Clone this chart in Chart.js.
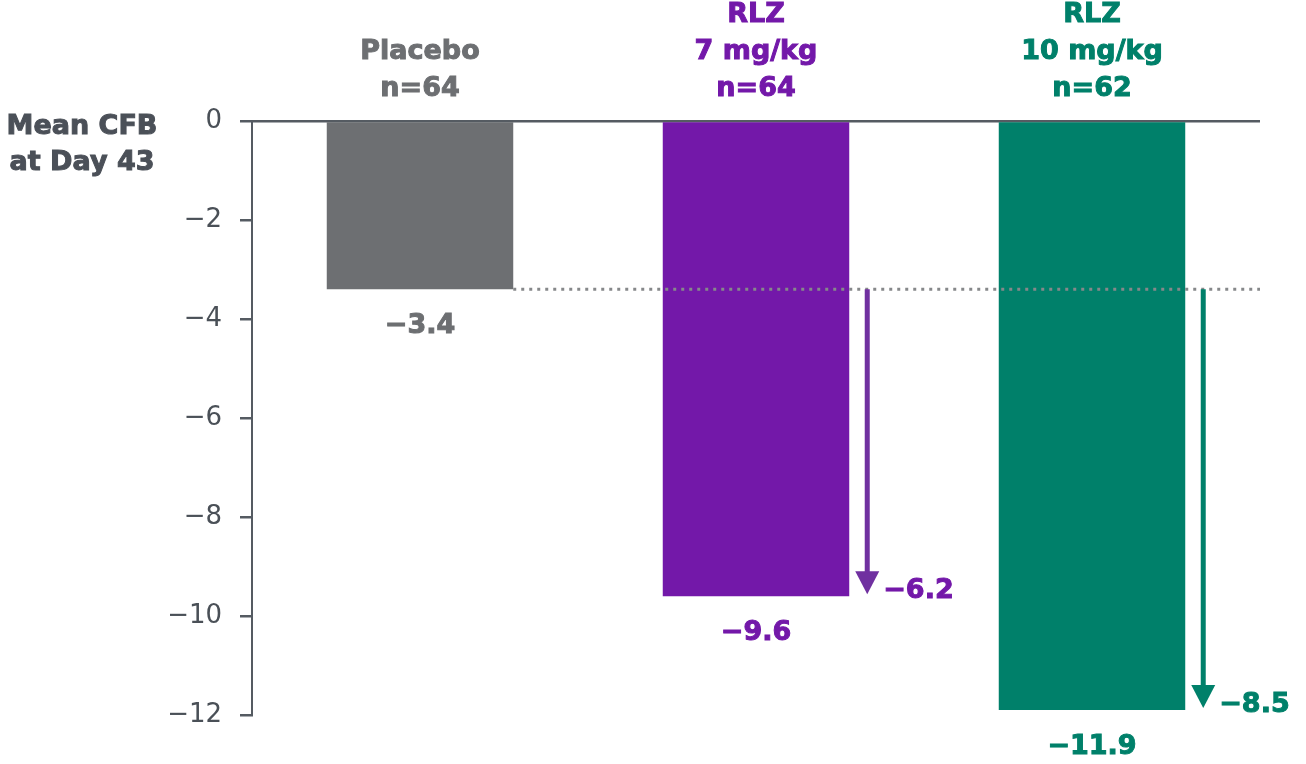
<!DOCTYPE html>
<html>
<head>
<meta charset="utf-8">
<style>
  html, body { margin: 0; padding: 0; background: #fff; }
  canvas { display: block; }
</style>
</head>
<body>
<canvas id="cfbChart" width="1306" height="764"></canvas>

<script src="https://cdn.jsdelivr.net/npm/chart.js"></script>

<script>
// data
const groups = [['Placebo', 'n=64'], ['RLZ', '7 mg/kg', 'n=64'], ['RLZ', '10 mg/kg', 'n=62']];
const meanCfb = [-3.4, -9.6, -11.9];
const diffVsPlacebo = [null, -6.2, -8.5];
const yTicks = [0, -2, -4, -6, -8, -10, -12];
const yTitle = ['Mean CFB', 'at Day 43'];

const barColors = ['#6d6f72', '#7318a9', '#00806a'];
const arrowColors = [null, '#7030a0', '#00806a'];
const FONT = '"DejaVu Sans", Verdana, sans-serif';

function signed(v, digits) {
  const s = Math.abs(v).toFixed(digits);
  return v < 0 ? '\u2212' + s : s;
}

// bold text with a thin outline so it looks as heavy as the slide font
function heavyText(ctx, text, x, y, color) {
  ctx.fillStyle = color;
  ctx.strokeStyle = color;
  ctx.lineWidth = 1;
  ctx.fillText(text, x, y);
  ctx.strokeText(text, x, y);
}

// extra marks: axis title, placebo reference line, value labels, difference arrows
const annotations = {
  id: 'annotations',
  afterDatasetsDraw(chart) {
    const ctx = chart.ctx;
    const y = chart.scales.y;
    const area = chart.chartArea;
    const bars = chart.getDatasetMeta(0).data;

    ctx.save();

    // y axis title, top left
    ctx.font = 'bold 27px ' + FONT;
    ctx.textAlign = 'center';
    ctx.textBaseline = 'middle';
    heavyText(ctx, yTitle[0], 82, 127, '#4b5058');
    heavyText(ctx, yTitle[1], 82, 163, '#4b5058');

    // dotted line at placebo level
    const yRef = y.getPixelForValue(meanCfb[0]);
    const b0 = bars[0];
    ctx.strokeStyle = '#86888a';
    ctx.lineWidth = 3;
    ctx.setLineDash([3, 5]);
    ctx.beginPath();
    ctx.moveTo(b0.x + b0.width / 2, yRef);
    ctx.lineTo(area.right, yRef);
    ctx.stroke();
    ctx.setLineDash([]);

    // value labels under bars
    ctx.font = 'bold 27px ' + FONT;
    ctx.textAlign = 'center';
    ctx.textBaseline = 'middle';
    bars.forEach((bar, i) => {
      heavyText(ctx, signed(meanCfb[i], 1), bar.x, bar.y + 37, barColors[i]);
    });

    // arrows showing difference vs placebo
    diffVsPlacebo.forEach((d, i) => {
      if (d === null) return;
      const bar = bars[i];
      const ax = bar.x + bar.width / 2 + 18;
      const tip = y.getPixelForValue(meanCfb[i]) - 2;
      const head = 23;
      ctx.strokeStyle = arrowColors[i];
      ctx.fillStyle = arrowColors[i];
      ctx.lineWidth = 5;
      ctx.beginPath();
      ctx.moveTo(ax, yRef);
      ctx.lineTo(ax, tip - head + 2);
      ctx.stroke();
      ctx.beginPath();
      ctx.moveTo(ax - 12, tip - head);
      ctx.lineTo(ax + 12, tip - head);
      ctx.lineTo(ax, tip);
      ctx.closePath();
      ctx.fill();

      ctx.textAlign = 'left';
      heavyText(ctx, signed(d, 1), ax + 16, tip - 3, barColors[i]);
    });

    ctx.restore();
  }
};

const chart = new Chart(document.getElementById('cfbChart').getContext('2d'), {
  type: 'bar',
  data: {
    labels: groups,
    datasets: [{
      data: meanCfb,
      backgroundColor: barColors,
      borderWidth: 0,
      categoryPercentage: 1.0,
      barPercentage: 0.555
    }]
  },
  options: {
    responsive: false,
    animation: false,
    layout: { padding: { left: 0, top: 0, right: 46, bottom: 49 } },
    plugins: {
      legend: { display: false },
      tooltip: { enabled: false }
    },
    scales: {
      x: {
        position: 'top',
        grid: { display: false, drawTicks: false },
        border: { display: false },
        ticks: {
          autoSkip: false,
          maxRotation: 0,
          padding: 14,
          font: { family: FONT, size: 27, weight: 'bold', lineHeight: 1.37 },
          color: (c) => barColors[c.index],
          textStrokeColor: (c) => barColors[c.index],
          textStrokeWidth: 1
        },
        afterFit(scale) { scale.height = 121; }
      },
      y: {
        min: -12,
        max: 0,
        afterBuildTicks(scale) { scale.ticks = yTicks.map(v => ({ value: v })); },
        afterFit(scale) { scale.width = 252; },
        grid: {
          drawOnChartArea: true,
          drawTicks: true,
          tickLength: 12,
          lineWidth: 2.5,
          color: (c) => (c.tick && c.tick.value === 0) ? '#555b62' : 'rgba(0,0,0,0)',
          tickColor: '#555b62'
        },
        border: { display: true, color: '#555b62', width: 2 },
        ticks: {
          padding: 18,
          color: '#4a5057',
          font: { family: FONT, size: 26 },
          callback: (v) => signed(v, 0)
        }
      }
    }
  },
  plugins: [annotations]
});
</script>
</body>
</html>
